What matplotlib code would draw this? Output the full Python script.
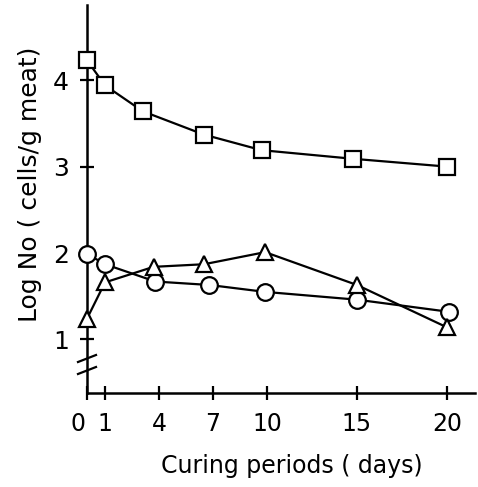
import matplotlib
matplotlib.use("Agg")
import matplotlib.pyplot as plt
import matplotlib.transforms as mtransforms

# Data
sq_days = [0, 1, 3.1, 6.5, 9.7, 14.8, 20]
sq_vals = [4.23, 3.94, 3.64, 3.37, 3.19, 3.09, 3.00]

ci_days = [0, 1, 3.8, 6.8, 9.9, 15, 20.1]
ci_vals = [1.99, 1.87, 1.67, 1.63, 1.55, 1.46, 1.32]

tr_days = [0, 1, 3.7, 6.5, 9.9, 15, 20]
tr_vals = [1.24, 1.66, 1.84, 1.87, 2.01, 1.63, 1.14]

xticks = [0, 1, 4, 7, 10, 15, 20]
yticks = [1, 2, 3, 4]

W, H = 478, 487
fig = plt.figure(figsize=(W / 100, H / 100), dpi=100)
ax = fig.add_axes([87 / W, 1 - 393 / H, (475 - 87) / W, (393 - 5) / H])

kw = dict(color="black", lw=1.6, markersize=12, markerfacecolor="white",
          markeredgecolor="black", markeredgewidth=1.6)
ax.plot(sq_days, sq_vals, marker="s", clip_on=False, zorder=3, **kw)
ax.plot(ci_days, ci_vals, marker="o", clip_on=False, zorder=3, **kw)
ax.plot(tr_days, tr_vals, marker="^", clip_on=False, zorder=3, **kw)

ax.set_xlim(0, 21.56)
ax.set_ylim(0.38, 4.87)
ax.set_xticks(xticks)
ax.set_yticks(yticks)
ax.set_xticklabels([str(v) for v in xticks], fontsize=17)
ax.set_yticklabels([str(v) for v in yticks], fontsize=18)
ax.tick_params(axis="both", direction="inout", length=10, width=1.6)
ax.tick_params(axis="y", pad=8)
ax.tick_params(axis="x", pad=9)

# the "0" label sits a little left of the axis in the reference
lbl0 = ax.get_xticklabels()[0]
lbl0.set_transform(lbl0.get_transform() +
                   mtransforms.ScaledTranslation(-9 / 100, 0, fig.dpi_scale_trans))

for s in ["top", "right"]:
    ax.spines[s].set_visible(False)
for s in ["left", "bottom"]:
    ax.spines[s].set_linewidth(1.8)

# axis break marks
bw = 18 / (475 - 87)
for yb in [(393 - 362) / 388, (393 - 374) / 388]:
    ax.plot([-bw / 2, bw / 2], [yb, yb + 7 / 388], color="black", lw=1.6,
            transform=ax.transAxes, clip_on=False)

fig.text(292 / W, 1 - 466 / H, "Curing periods ( days)", ha="center", va="center",
         fontsize=17)
fig.text(30 / W, 1 - 184 / H, "Log No ( cells/g meat)", ha="center", va="center",
         rotation=90, fontsize=18)

fig.savefig("out.png", dpi=100)
